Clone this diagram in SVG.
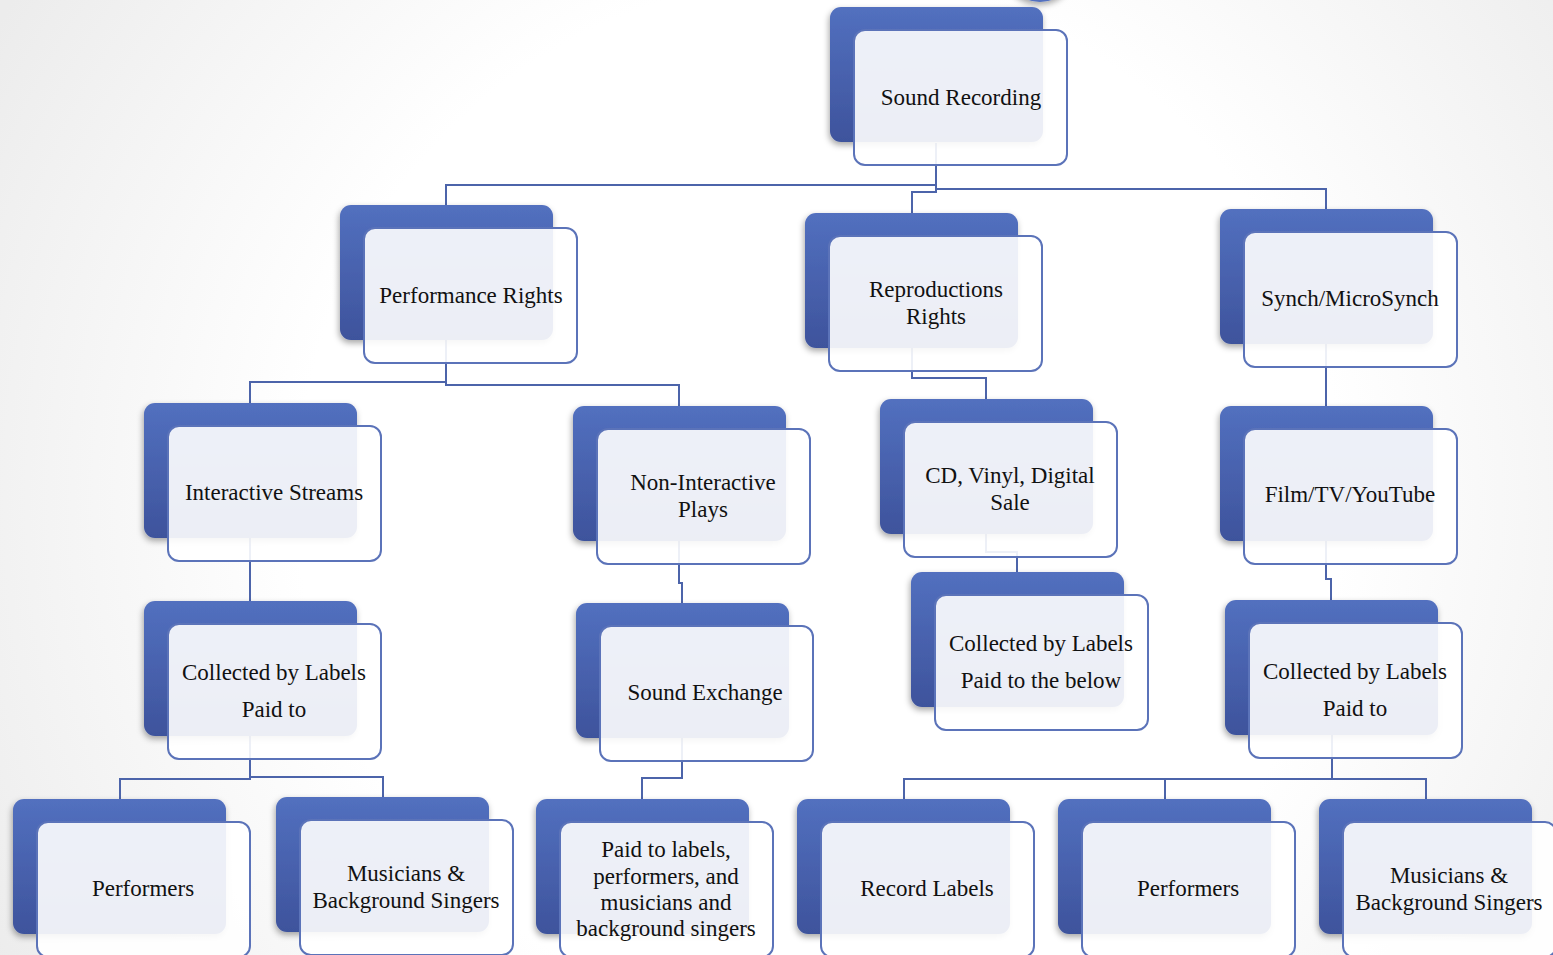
<svg xmlns="http://www.w3.org/2000/svg" width="1553" height="955" viewBox="0 0 1553 955">
<style>
.back{fill:url(#gb);filter:url(#sh)}
.front{fill:#ffffff;fill-opacity:0.9;stroke:#5b73b9;stroke-width:2}
.conn{fill:none;stroke:#4c64aa;stroke-width:2}
text{font-family:"Liberation Serif","Times New Roman",serif;font-size:23px;fill:#111;text-anchor:middle}
</style>
<defs>
<radialGradient id="bg" cx="820" cy="500" r="950" gradientUnits="userSpaceOnUse">
<stop offset="0" stop-color="#ffffff"/>
<stop offset="0.55" stop-color="#ffffff"/>
<stop offset="1" stop-color="#ececec"/>
</radialGradient>
<linearGradient id="gb" x1="0" y1="0" x2="0" y2="1">
<stop offset="0" stop-color="#5270bf"/>
<stop offset="1" stop-color="#3e539c"/>
</linearGradient>
<filter id="sh" x="-10%" y="-10%" width="125%" height="130%">
<feDropShadow dx="-1" dy="3" stdDeviation="3" flood-color="#000" flood-opacity="0.35"/>
</filter>
</defs>
<rect x="0" y="0" width="1553" height="955" fill="url(#bg)"/>
<circle cx="1040" cy="-34" r="36" fill="#5270bf" filter="url(#sh)"/>
<g id="connectors">
<path class="conn" d="M936,143 V185 H446 V205"/>
<path class="conn" d="M936,143 V192 H912 V213"/>
<path class="conn" d="M936,143 V189 H1326 V209"/>
<path class="conn" d="M446,340 V382 H250 V403"/>
<path class="conn" d="M446,340 V385 H679 V406"/>
<path class="conn" d="M912,348 V378 H986 V399"/>
<path class="conn" d="M1326,344 V406"/>
<path class="conn" d="M250,538 V601"/>
<path class="conn" d="M679,541 V583 H682 V603"/>
<path class="conn" d="M986,534 V552 H1017 V572"/>
<path class="conn" d="M1326,541 V579 H1331 V600"/>
<path class="conn" d="M250,736 V779 H120 V799"/>
<path class="conn" d="M250,736 V777 H383 V797"/>
<path class="conn" d="M682,738 V778 H642 V799"/>
<path class="conn" d="M1332,735 V779 H904 V799"/>
<path class="conn" d="M1332,735 V779 H1165 V799"/>
<path class="conn" d="M1332,735 V779 H1426 V799"/>
</g>
<g id="n1"><rect class="back" x="830" y="7" width="213" height="135" rx="11"/><rect class="front" x="854" y="30" width="213" height="135" rx="11"/><text x="961" y="105">Sound Recording</text></g>
<g id="n2"><rect class="back" x="340" y="205" width="213" height="135" rx="11"/><rect class="front" x="364" y="228" width="213" height="135" rx="11"/><text x="471" y="303">Performance Rights</text></g>
<g id="n3"><rect class="back" x="805" y="213" width="213" height="135" rx="11"/><rect class="front" x="829" y="236" width="213" height="135" rx="11"/><text x="936" y="297">Reproductions</text><text x="936" y="324">Rights</text></g>
<g id="n4"><rect class="back" x="1220" y="209" width="213" height="135" rx="11"/><rect class="front" x="1244" y="232" width="213" height="135" rx="11"/><text x="1350" y="306">Synch/MicroSynch</text></g>
<g id="n5"><rect class="back" x="144" y="403" width="213" height="135" rx="11"/><rect class="front" x="168" y="426" width="213" height="135" rx="11"/><text x="274" y="500">Interactive Streams</text></g>
<g id="n6"><rect class="back" x="573" y="406" width="213" height="135" rx="11"/><rect class="front" x="597" y="429" width="213" height="135" rx="11"/><text x="703" y="490">Non-Interactive</text><text x="703" y="517">Plays</text></g>
<g id="n7"><rect class="back" x="880" y="399" width="213" height="135" rx="11"/><rect class="front" x="904" y="422" width="213" height="135" rx="11"/><text x="1010" y="483">CD, Vinyl, Digital</text><text x="1010" y="510">Sale</text></g>
<g id="n8"><rect class="back" x="1220" y="406" width="213" height="135" rx="11"/><rect class="front" x="1244" y="429" width="213" height="135" rx="11"/><text x="1350" y="502">Film/TV/YouTube</text></g>
<g id="n9"><rect class="back" x="144" y="601" width="213" height="135" rx="11"/><rect class="front" x="168" y="624" width="213" height="135" rx="11"/><text x="274" y="680">Collected by Labels</text><text x="274" y="717">Paid to</text></g>
<g id="n10"><rect class="back" x="576" y="603" width="213" height="135" rx="11"/><rect class="front" x="600" y="626" width="213" height="135" rx="11"/><text x="705" y="700">Sound Exchange</text></g>
<g id="n11"><rect class="back" x="911" y="572" width="213" height="135" rx="11"/><rect class="front" x="935" y="595" width="213" height="135" rx="11"/><text x="1041" y="651">Collected by Labels</text><text x="1041" y="688">Paid to the below</text></g>
<g id="n12"><rect class="back" x="1225" y="600" width="213" height="135" rx="11"/><rect class="front" x="1249" y="623" width="213" height="135" rx="11"/><text x="1355" y="679">Collected by Labels</text><text x="1355" y="716">Paid to</text></g>
<g id="n13"><rect class="back" x="13" y="799" width="213" height="135" rx="11"/><rect class="front" x="37" y="822" width="213" height="135" rx="11"/><text x="143" y="896">Performers</text></g>
<g id="n14"><rect class="back" x="276" y="797" width="213" height="135" rx="11"/><rect class="front" x="300" y="820" width="213" height="135" rx="11"/><text x="406" y="881">Musicians &amp;</text><text x="406" y="908">Background Singers</text></g>
<g id="n15"><rect class="back" x="536" y="799" width="213" height="135" rx="11"/><rect class="front" x="560" y="822" width="213" height="135" rx="11"/><text x="666" y="857">Paid to labels,</text><text x="666" y="884">performers, and</text><text x="666" y="910">musicians and</text><text x="666" y="936">background singers</text></g>
<g id="n16"><rect class="back" x="797" y="799" width="213" height="135" rx="11"/><rect class="front" x="821" y="822" width="213" height="135" rx="11"/><text x="927" y="896">Record Labels</text></g>
<g id="n17"><rect class="back" x="1058" y="799" width="213" height="135" rx="11"/><rect class="front" x="1082" y="822" width="213" height="135" rx="11"/><text x="1188" y="896">Performers</text></g>
<g id="n18"><rect class="back" x="1319" y="799" width="213" height="135" rx="11"/><rect class="front" x="1343" y="822" width="213" height="135" rx="11"/><text x="1449" y="883">Musicians &amp;</text><text x="1449" y="910">Background Singers</text></g>
</svg>
